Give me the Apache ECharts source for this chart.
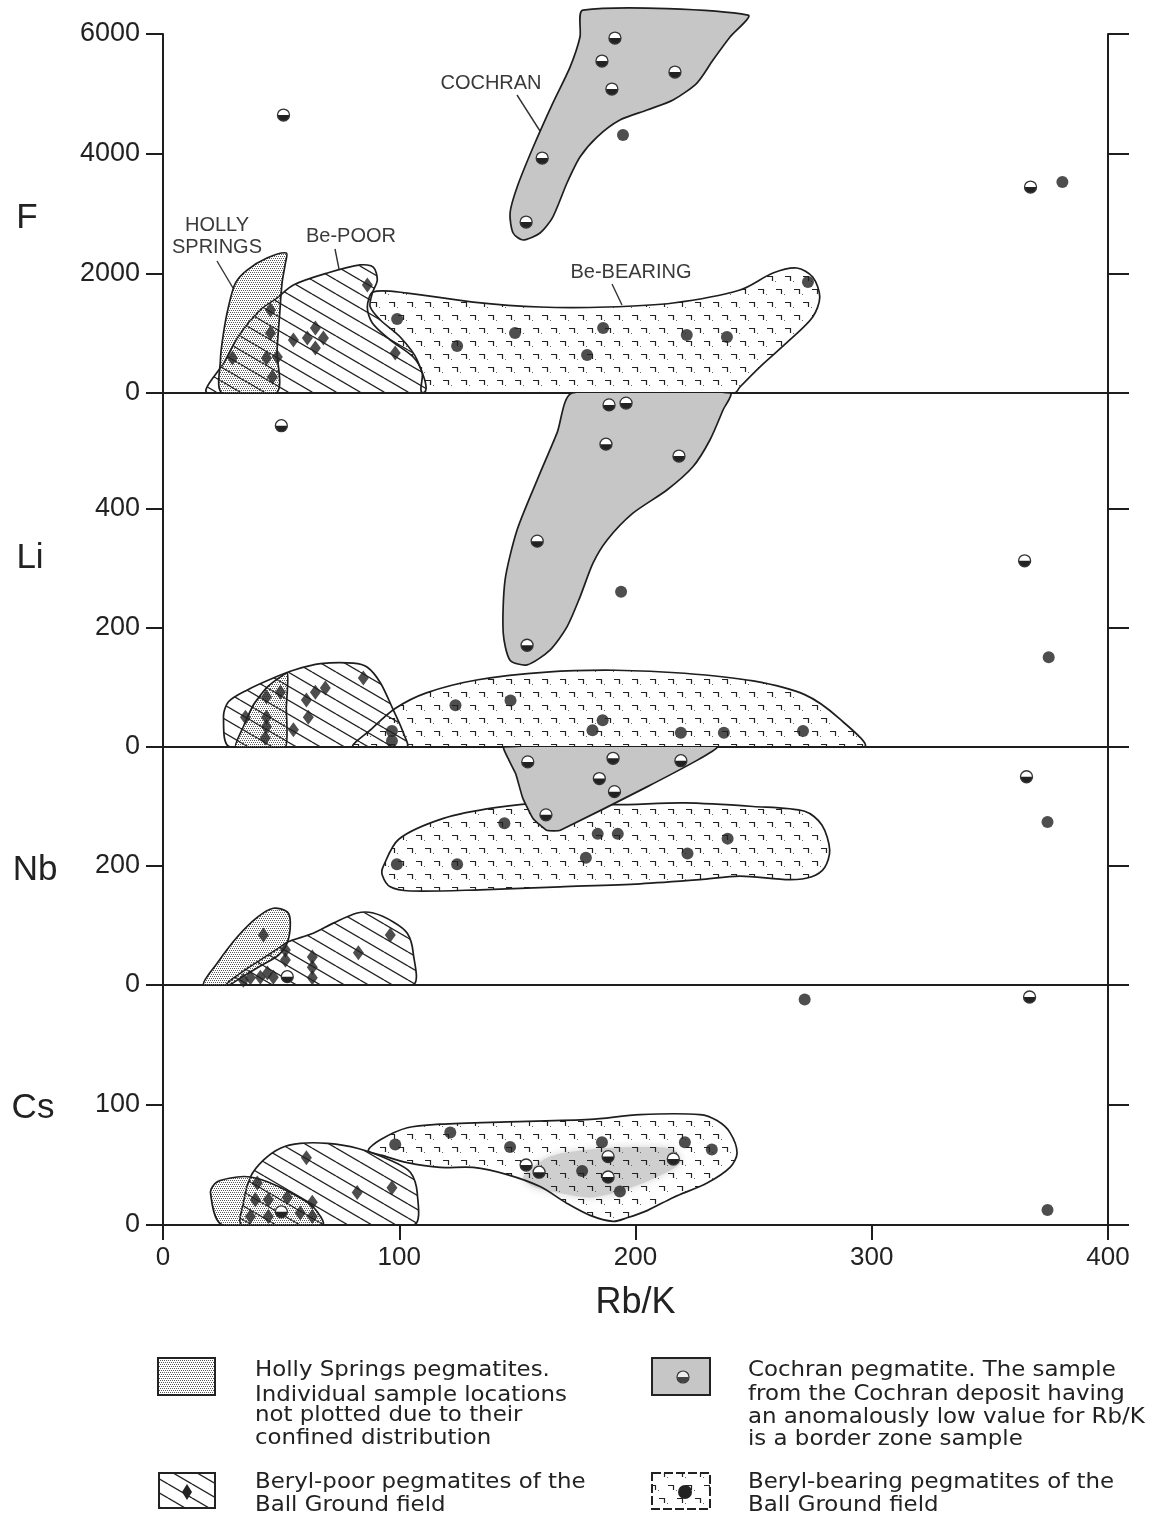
<!DOCTYPE html>
<html><head><meta charset="utf-8">
<script src="https://cdn.jsdelivr.net/npm/echarts@6/dist/echarts.min.js"></script>
<style>html,body{margin:0;padding:0;background:#fff}#c{width:1159px;height:1522px}</style>
</head><body><div id="c"></div><script>
// ---------- axes / ticks ----------
const xTicks = [0, 100, 200, 300, 400];
const fTicks = [0, 2000, 4000, 6000];
const liTicks = [0, 200, 400];
const nbTicks = [0, 200];
const csTicks = [0, 100];
const panelNames = ['F', 'Li', 'Nb', 'Cs'];
const panelMax = [6000, 595, 400, 200];
const xName = 'Rb/K';

// ---------- F panel (Rb/K, F ppm) ----------
const fHolly = [[25,0],[24.3,550],[25.6,1000],[27.7,1440],[30.7,1840],[35.6,2055],[44,2256],[52.2,2340],[51.8,2170],[50.4,1840],[49.3,1270],[48.3,720],[48,0]];
const fBePoor = [[19,0],[26,520],[32.8,1000],[41.2,1390],[48.3,1590],[55.2,1805],[69.6,2005],[83.5,2140],[89,2105],[90.7,1890],[88.6,1670],[87.7,1440],[92,1220],[100.4,936],[107.6,550],[110,0]];
const fBeBearing = [[89,1690],[103.4,1670],[131.3,1520],[159.6,1437],[188,1437],[215.9,1504],[244.2,1721],[258.2,2005],[268.3,2089],[275,1938],[278,1604],[275,1270],[265.3,886],[252.6,434],[244.2,100],[242,0],[110.2,0],[109.7,334],[105.9,602],[96.2,886],[88.6,1170],[86.5,1437]];
const fCochran = [[177.8,6400],[247.6,6316],[240,5949],[232.8,5564],[226,5180],[215.9,4896],[204.9,4729],[193.4,4562],[183.7,4278],[176.5,3944],[171,3510],[165,2941],[159.6,2674],[152.4,2557],[148.2,2674],[146.9,3008],[149.9,3442],[156.7,4111],[165,4846],[172.3,5447],[176.5,5949]];
const fDiamonds = [[86.5,1805],[98.3,668],[45.5,1387],[45.5,1003],[29.4,585],[43.8,585],[48.4,602],[46.3,267],[55.2,886],[61.1,919],[64.5,1086],[67.9,919],[64.5,752]];
const fBlack = [[99.1,1237],[124.5,785],[149,1003],[186.3,1086],[179.5,635],[221.7,969],[238.7,936],[273,1855],[194.7,4311],[380.7,3526]];
const fHalf = [[191.3,5932],[185.8,5548],[190,5080],[216.7,5364],[160.5,3927],[153.7,2857],[51,4645],[367.2,3442]];

// ---------- Li panel ----------
const liHolly = [[30.7,0],[34,34],[38.3,71],[44.2,101],[52.6,124],[52.2,67],[51.8,0]];
const liBePoor = [[28.5,0],[25.6,50],[27.7,76],[35.7,96],[46.7,116],[55.2,129],[66.6,140],[80.6,141],[86.5,134],[92,108],[97.5,62],[101.7,24],[103,0]];
const liBeBearing = [[80.9,0],[88.2,30],[98.4,65],[111.5,91],[133.3,113],[162.4,126],[191.5,129],[220.7,124],[249.8,111],[271.6,88],[286.2,48],[296.4,0]];
const liCochran = [[173.2,595],[240,595],[237,566],[231.5,516],[224.3,471],[213.3,432],[198.9,393],[188,348],[182,309],[176.5,252],[171,202],[163.8,163],[154.1,138],[146.9,146],[144,192],[144.8,281],[149.9,365],[158.4,449],[166.8,528]];
const liDiamonds = [[34.9,50],[43.8,84],[49.7,92],[43.8,50],[43.8,34],[43.3,15],[55.2,29],[60.7,79],[64.5,92],[68.7,99],[61.5,50],[84.8,116]];
const liBlack = [[123.8,70],[147.1,78],[186.1,45],[181.8,28],[219.2,24],[237.4,24],[270.9,27],[96.9,27],[96.9,10],[193.9,261],[374.9,151]];
const liHalf = [[188.8,575],[196,578],[187.5,509],[218.4,489],[158.4,346],[154.1,171],[50.1,540],[364.7,313]];

// ---------- Nb panel ----------
const nbHolly = [[17.1,0],[23,37],[31.5,81],[40,114],[46.7,129],[52.6,123],[53.9,104],[52.6,71],[48.8,50],[41.2,32],[32.8,12],[27.7,0]];
const nbBePoor = [[27.3,0],[32.8,20],[41.2,42],[49.7,64],[52.6,72],[63.6,87],[72.1,104],[82.2,121],[89,121],[97.5,106],[103.4,87],[105.9,54],[105.5,0]];
const nbBeBearing = [[93.2,199],[99.8,245],[118.7,280],[140.6,298],[162.4,306],[191.5,303],[220.7,306],[249.8,300],[271.6,292],[278.9,269],[282.2,227],[280,197],[274.6,182],[265.3,177],[244.2,183],[227.3,177],[202,170],[168.1,165],[134.2,160],[104.7,158],[96.2,165],[92.8,185]];
const nbCochran = [[144.2,400],[234.5,400],[168.2,260],[162.4,260],[156.6,280],[152.2,315],[149.3,355],[146.4,378]];
const nbDiamonds = [[42.5,84],[96.2,84],[82.7,54],[63.2,47],[63.2,30],[63.2,12],[51.8,59],[51.8,42],[44.2,20],[41.2,13],[37,12],[46.7,13],[34,8]];
const nbBlack = [[144.5,272],[184,254],[192.5,254],[239,246],[99,203],[124.5,203],[179,214],[222,221],[374.4,274]];
const nbHalf = [[154.4,375],[190.5,381],[219.2,377],[184.7,347],[191.1,325],[162.1,286],[365.5,350],[52.6,14]];

// ---------- Cs panel ----------
const csHolly = [[25.2,0],[20.1,27],[23,36],[31.5,40],[37,40],[44.2,36],[53.9,27],[63.6,15],[67.4,0]];
const csBePoor = [[33.6,0],[34,18],[37,40],[42.5,54],[49.7,64],[58.1,68],[69.6,68],[82.2,64],[96.2,54],[104.7,44],[107.6,27],[106,0]];
const csBeBearing = [[86.9,62],[92,71],[103.4,81],[117.3,84],[145.7,86],[180.8,88],[201.9,92],[227.3,92],[234.5,87],[240,77],[243,60],[240,48],[230.3,35],[216,23],[204.9,12],[196.4,6],[190.5,3],[180.8,8],[171,18],[159.6,32],[145.7,42],[131.3,48],[117.3,48],[103.4,52],[92.8,58]];
const csCochran = [[152.4,40],[163.8,57],[180.8,63],[201.9,65],[216,63],[219,52],[209.1,40],[194.7,29],[180.8,23],[166.8,27],[156.7,32]];
const csDiamonds = [[60.7,56],[82.2,27],[96.9,31],[39.9,35],[39.1,21],[37,7],[44.6,7],[44.6,21],[52.6,23],[58.1,10],[63.2,19],[63.2,7]];
const csBlack = [[98.3,67],[121.6,77],[146.9,65],[185.8,69],[220.9,69],[232.3,63],[177.4,45],[193.4,28],[271.6,188],[374.4,12.5]];
const csHalf = [[153.7,50],[159.2,44],[188.4,57],[188.4,40],[216,55],[366.8,190],[50.1,11]];

// ---------- legend text ----------
const legendLeft1 = ['Holly Springs pegmatites.', 'Individual sample locations', 'not plotted due to their', 'confined distribution'];
const legendLeft2 = ['Beryl-poor pegmatites of the', 'Ball Ground field'];
const legendRight1 = ['Cochran pegmatite. The sample', 'from the Cochran deposit having', 'an anomalously low value for Rb/K', 'is a border zone sample'];
const legendRight2 = ['Beryl-bearing pegmatites of the', 'Ball Ground field'];

// ---------- patterns ----------
function makeCanvas(w, h, draw) { const c = document.createElement('canvas'); c.width = w; c.height = h; draw(c.getContext('2d')); return c; }
const stippleImg = makeCanvas(4, 4, g => { g.fillStyle = '#5a5a5a'; g.fillRect(0, 0, 1, 1); g.fillRect(2, 0, 1, 1); g.fillRect(1, 2, 1, 1); g.fillRect(3, 2, 1, 1); });
const hatchImg = makeCanvas(24, 14, g => {
  g.strokeStyle = '#222'; g.lineWidth = 1.3;
  for (const k of [-1, 0, 1]) { g.beginPath(); g.moveTo(0, k * 14); g.lineTo(24, 14 + k * 14); g.stroke(); }
});
const markImg = makeCanvas(18, 26, g => {
  g.strokeStyle = '#222'; g.lineWidth = 1.2;
  const m = (x, y) => { g.beginPath(); g.moveTo(x, y + 0.5); g.lineTo(x + 5.5, y + 0.5); g.lineTo(x + 5.5, y + 5); g.stroke(); };
  m(2, 3); m(11, 16);
  g.fillStyle = '#666'; g.fillRect(10, 8, 1, 1); g.fillRect(1, 21, 1, 1);
});
const stipple = { image: stippleImg, repeat: 'repeat' };
const hatch = { image: hatchImg, repeat: 'repeat' };
const marks = { image: markImg, repeat: 'repeat' };
const cochranGray = '#c6c6c6';

// ---------- series builders ----------
function region(pts, gi, fill, opt) {
  opt = opt || {};
  return {
    type: 'custom', xAxisIndex: gi, yAxisIndex: gi * 2, silent: true, z: opt.z || 2,
    clip: opt.clip !== false, data: [pts[0]],
    renderItem: (params, api) => ({
      type: 'polygon',
      shape: { points: pts.map(p => api.coord(p)), smooth: opt.smooth === undefined ? 0.3 : opt.smooth },
      style: Object.assign({ fill: fill, stroke: opt.stroke === undefined ? '#1e1e1e' : opt.stroke, lineWidth: 1.7 }, opt.style || {})
    })
  };
}
function dots(pts, gi) {
  return { type: 'scatter', xAxisIndex: gi, yAxisIndex: gi * 2, silent: true, z: 6, symbol: 'circle', symbolSize: 12,
    itemStyle: { color: '#222' }, data: pts };
}
function diamonds(pts, gi) {
  return { type: 'scatter', xAxisIndex: gi, yAxisIndex: gi * 2, silent: true, z: 6, symbol: 'diamond', symbolSize: [11, 15],
    itemStyle: { color: '#222' }, data: pts };
}
function halves(pts, gi) {
  return {
    type: 'custom', xAxisIndex: gi, yAxisIndex: gi * 2, silent: true, z: 7, data: pts,
    renderItem: (params, api) => {
      const c = api.coord([api.value(0), api.value(1)]); const r = 6;
      return { type: 'group', children: [
        { type: 'circle', shape: { cx: c[0], cy: c[1], r: r }, style: { fill: '#fff', stroke: null } },
        { type: 'sector', shape: { cx: c[0], cy: c[1], r0: 0, r: r, startAngle: 0, endAngle: Math.PI, clockwise: true }, style: { fill: '#222' } },
        { type: 'circle', shape: { cx: c[0], cy: c[1], r: r }, style: { fill: null, stroke: '#333', lineWidth: 1.3 } }
      ] };
    }
  };
}

// ---------- grids & axes ----------
const gridTops = [34, 393, 747, 985];
const gridHeights = [359, 354, 238, 240];
const tickSets = [fTicks, liTicks, nbTicks, csTicks];
const axisColor = '#1e1e1e';
const plain = v => String(v);
const grids = gridTops.map((t, i) => ({ left: 163, width: 945, top: t, height: gridHeights[i] }));
const xAxes = [0, 1, 2, 3].map(i => ({
  gridIndex: i, type: 'value', min: xTicks[0], max: xTicks[xTicks.length - 1], interval: 100,
  axisLine: { show: true, onZero: false, lineStyle: { color: axisColor, width: 2 } },
  axisTick: { show: i === 3, length: 15, lineStyle: { color: axisColor, width: 2 } },
  axisLabel: { show: i === 3, fontSize: 26, fontFamily: 'Liberation Sans', color: '#222', margin: 20, formatter: plain },
  splitLine: { show: false },
  name: i === 3 ? xName : '', nameLocation: 'middle', nameGap: 60,
  nameTextStyle: { fontSize: 36, fontFamily: 'Liberation Sans', color: '#222' }
}));
const yAxes = [];
[0, 1, 2, 3].forEach(i => {
  const base = { gridIndex: i, type: 'value', min: 0, max: panelMax[i], splitLine: { show: false },
    axisLine: { show: true, onZero: false, lineStyle: { color: axisColor, width: 2 } } };
  yAxes.push(Object.assign({}, base, { position: 'left',
    axisTick: { show: true, length: 17, customValues: tickSets[i], lineStyle: { color: axisColor, width: 2 } },
    axisLabel: { show: true, customValues: tickSets[i], fontSize: 27, fontFamily: 'Liberation Sans', color: '#222', margin: 23, formatter: plain } }));
  yAxes.push(Object.assign({}, base, { position: 'right',
    axisTick: { show: true, length: 21, customValues: tickSets[i], lineStyle: { color: axisColor, width: 2 } },
    axisLabel: { show: false } }));
});

const series = [
  region(fBePoor, 0, hatch), region(fHolly, 0, stipple), region(fBeBearing, 0, marks),
  region(fCochran, 0, cochranGray, { clip: false, z: 3, smooth: 0.25 }),
  diamonds(fDiamonds, 0), dots(fBlack, 0), halves(fHalf, 0),

  region(liBePoor, 1, hatch), region(liHolly, 1, stipple, { smooth: 0.15 }), region(liBeBearing, 1, marks),
  region(liCochran, 1, cochranGray, { z: 3, smooth: 0.25 }),
  diamonds(liDiamonds, 1), dots(liBlack, 1), halves(liHalf, 1),

  region(nbBePoor, 2, hatch), region(nbHolly, 2, stipple), region(nbBeBearing, 2, marks),
  region(nbCochran, 2, cochranGray, { z: 3, smooth: 0.12 }),
  diamonds(nbDiamonds, 2), dots(nbBlack, 2), halves(nbHalf, 2),

  region(csCochran, 3, '#cfcfcf', { z: 1, stroke: null, style: { shadowBlur: 8, shadowColor: '#d4d4d4' } }),
  region(csBePoor, 3, hatch), region(csHolly, 3, stipple), region(csBeBearing, 3, marks),
  diamonds(csDiamonds, 3), dots(csBlack, 3), halves(csHalf, 3)
];

// ---------- graphic: labels, annotations, legend ----------
const txt = (x, y, text, size, extra) => Object.assign({ type: 'text', x: x, y: y, silent: true,
  style: Object.assign({ text: text, font: size + 'px "Liberation Sans"', fill: '#222', align: 'center', verticalAlign: 'middle',
    textAlign: 'center', textVerticalAlign: 'middle' }, (extra && extra.style) || {}) }, (extra && extra.el) || {});
const ln = (x1, y1, x2, y2) => ({ type: 'line', silent: true, shape: { x1: x1, y1: y1, x2: x2, y2: y2 }, style: { stroke: '#333', lineWidth: 1.4 } });
const panelLabelPos = [[27, 218], [30, 558], [35, 870], [33, 1108]];
const graphics = [];
panelNames.forEach((n, i) => graphics.push(txt(panelLabelPos[i][0], panelLabelPos[i][1], n, 35)));
const annoStyle = { style: { fill: '#3a3a3a' } };
graphics.push(txt(491, 83, 'COCHRAN', 20, annoStyle), ln(517, 95, 540, 131));
graphics.push(txt(217, 225, 'HOLLY', 20, annoStyle), txt(217, 247, 'SPRINGS', 20, annoStyle), ln(217, 261, 233, 288));
graphics.push(txt(351, 236, 'Be-POOR', 20, annoStyle), ln(335, 249, 339, 269));
graphics.push(txt(631, 272, 'Be-BEARING', 20, annoStyle), ln(612, 284, 622, 305));

// legend boxes
const box = (x, y, w, h, fill, dash) => ({ type: 'rect', silent: true, shape: { x: x, y: y, width: w, height: h },
  style: { fill: fill, stroke: '#222', lineWidth: 2, lineDash: dash || null } });
graphics.push(box(158, 1358, 57, 37, stipple));
graphics.push(box(159, 1473, 56, 35, hatch));
graphics.push({ type: 'polygon', silent: true, shape: { points: [[187, 1484], [192, 1492], [187, 1500], [182, 1492]] }, style: { fill: '#222' } });
graphics.push(box(652, 1358, 58, 37, cochranGray));
graphics.push({ type: 'circle', silent: true, shape: { cx: 683, cy: 1377, r: 6 }, style: { fill: '#eee', stroke: '#333', lineWidth: 1.2 } });
graphics.push({ type: 'sector', silent: true, shape: { cx: 683, cy: 1377, r0: 0, r: 6, startAngle: 0, endAngle: Math.PI, clockwise: true }, style: { fill: '#444' } });
graphics.push(box(652, 1473, 58, 36, marks, [9, 3]));
graphics.push({ type: 'circle', silent: true, shape: { cx: 685, cy: 1492, r: 7 }, style: { fill: '#222' } });

const legLine = (x, y, text) => ({ type: 'text', x: x, y: y, scaleX: 1.09, silent: true,
  style: { text: text, font: '21px "DejaVu Sans"', fill: '#222', align: 'left', textAlign: 'left', verticalAlign: 'middle', textVerticalAlign: 'middle' } });
const leftYs1 = [1371, 1396, 1416, 1439];
const rightYs1 = [1371, 1395, 1418, 1440];
legendLeft1.forEach((t, i) => graphics.push(legLine(255, leftYs1[i], t)));
legendLeft2.forEach((t, i) => graphics.push(legLine(255, [1483, 1506][i], t)));
legendRight1.forEach((t, i) => graphics.push(legLine(748, rightYs1[i], t)));
legendRight2.forEach((t, i) => graphics.push(legLine(748, [1483, 1506][i], t)));

const chart = echarts.init(document.getElementById('c'), null, { renderer: 'canvas' });
chart.setOption({
  animation: false,
  backgroundColor: '#fff',
  grid: grids,
  xAxis: xAxes,
  yAxis: yAxes,
  series: series,
  graphic: { elements: graphics }
});
</script></body></html>
